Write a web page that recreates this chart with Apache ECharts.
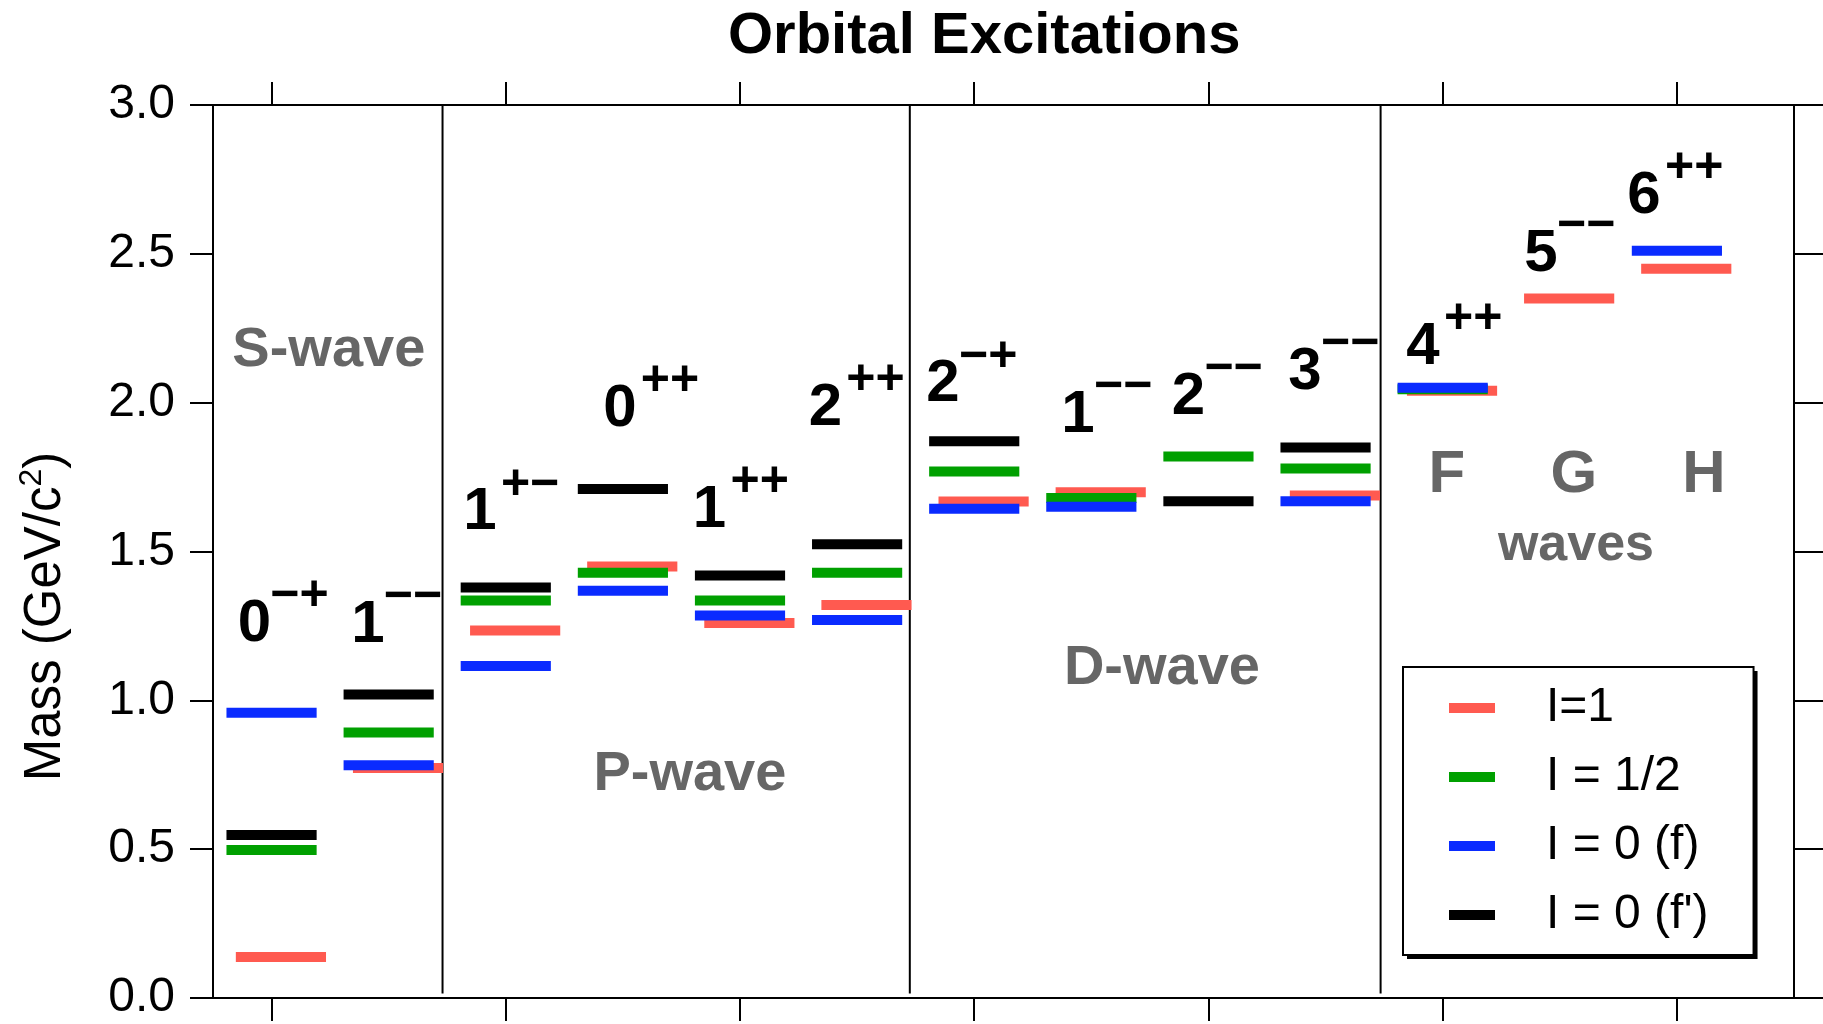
<!DOCTYPE html>
<html>
<head>
<meta charset="utf-8">
<title>Orbital Excitations</title>
<script src="https://cdn.jsdelivr.net/npm/echarts@6/dist/echarts.min.js"></script>
<style>
  html, body { margin: 0; padding: 0; background: #fff; }
  #chart { width: 1823px; height: 1024px; }
</style>
</head>
<body>
<div id="chart"></div>
<script>
// J^PC columns, left to right: S-wave, P-wave, D-wave, then F/G/H leading trajectories
const spins    = ['0', '1', '1', '0', '1', '2', '2', '1', '2', '3', '4', '5', '6'];
const parities = ['−+', '−−', '+−', '++', '++', '++', '−+', '−−', '−−', '−−', '++', '−−', '++'];

// Meson masses in GeV/c^2, one per column (null: no state in that column)
const massI1    = [0.138, 0.773, 1.235, 1.450, 1.260, 1.320, 1.668, 1.699, null,  1.688, 2.040, 2.350, 2.450];
const massIhalf = [0.497, 0.892, 1.335, 1.429, 1.335, 1.429, 1.769, 1.680, 1.819, 1.779, 2.045, null,  null];
const massI0f   = [0.958, 0.782, 1.115, 1.368, 1.285, 1.270, 1.644, 1.650, null,  1.669, 2.050, null,  2.510];
const massI0fp  = [0.548, 1.020, 1.379, 1.710, 1.419, 1.524, 1.870, null,  1.669, 1.849, null,  null,  null];

const isospinNames = ['I=1', 'I = 1/2', 'I = 0 (f)', "I = 0 (f')"];
const columnTicks = [1, 3, 5, 7, 9, 11, 13];
const waveNames = ['S-wave', 'P-wave', 'D-wave', 'F', 'G', 'H', 'waves'];

// ---- layout (axis units) ----
const waveBounds = [2.46, 6.45, 10.47];
const jpcLabelAt = [
  [0.853, 1.268], [1.822, 1.266], [2.779, 1.643], [3.974, 1.992], [4.739, 1.653],
  [5.729, 1.994], [6.733, 2.073], [7.886, 1.970], [8.829, 2.032], [9.824, 2.116],
  [10.832, 2.200], [11.840, 2.511], [12.719, 2.706]
];
const waveLabelAt = [
  [1.489, 2.190], [4.572, 0.765], [8.603, 1.119],
  [11.036, 1.768], [12.121, 1.768], [13.231, 1.768], [12.138, 1.534]
];
const waveLabelSize = [56, 56, 56, 60, 60, 60, 52];

// ---- style ----
const FONT = '"Liberation Sans", Arial, sans-serif';
const colors = ['#ff5a50', '#00a000', '#0a2bff', '#000000'];
const LEVEL_HALF = 0.385;        // half length of a level bar, axis units
const LEVEL_THICK = 10;          // px
const shifts = [0.08, 0, 0, 0];  // I=1 bars sit slightly to the right
const TEXT_DY = 4;               // px nudge so cap height centres on the anchor

const chart = echarts.init(document.getElementById('chart'), null, { renderer: 'canvas' });

function levelSeries(k, values) {
  return {
    name: isospinNames[k],
    type: 'custom',
    silent: true,
    clip: false,
    z: 3,
    itemStyle: { color: colors[k] },
    encode: { x: 0, y: 1 },
    data: values.map((m, i) => [i + 1, m]).filter(d => d[1] != null),
    renderItem: (params, api) => {
      const x = api.value(0), m = api.value(1);
      const a = api.coord([x - LEVEL_HALF + shifts[k], m]);
      const b = api.coord([x + LEVEL_HALF + shifts[k], m]);
      return {
        type: 'rect',
        shape: { x: a[0], y: a[1] - LEVEL_THICK / 2, width: b[0] - a[0], height: LEVEL_THICK },
        style: { fill: colors[k] }
      };
    }
  };
}

const axisLineStyle = { color: '#000', width: 2 };

const xAxisCommon = {
  type: 'value', min: 0.5, max: 14,
  axisLine: { show: true, onZero: false, lineStyle: axisLineStyle },
  axisTick: { show: true, inside: false, length: 23, lineStyle: axisLineStyle, customValues: columnTicks },
  axisLabel: { show: false },
  splitLine: { show: false }
};

const legendCommon = {
  orient: 'vertical',
  data: isospinNames,
  icon: 'rect', itemWidth: 46, itemHeight: 10, itemGap: 19,
  padding: [16, 45, 15, 46],
  selectedMode: false,
  textStyle: { fontFamily: FONT, fontSize: 48, lineHeight: 50, color: '#000', padding: [0, 0, 0, 46] }
};

const option = {
  backgroundColor: '#fff',
  animation: false,
  title: {
    text: 'Orbital Excitations',
    left: 728, top: 8, padding: 0,
    textStyle: { fontFamily: FONT, fontWeight: 'bold', fontSize: 58, lineHeight: 58, color: '#000' }
  },
  grid: { left: 213, right: 29, top: 105, bottom: 26, containLabel: false },
  xAxis: [
    Object.assign({ position: 'bottom' }, xAxisCommon),
    Object.assign({ position: 'top' }, xAxisCommon)
  ],
  yAxis: [
    {
      type: 'value', min: 0, max: 3, interval: 0.5, position: 'left',
      name: '{t|Mass (GeV/c}{s|2}{t|)}',
      nameLocation: 'middle', nameRotate: 90, nameGap: 137,
      nameTextStyle: {
        padding: [0, 130, 0, 0],
        rich: {
          t: { fontFamily: FONT, fontSize: 51, color: '#000', lineHeight: 60 },
          s: { fontFamily: FONT, fontSize: 32, color: '#000', verticalAlign: 'top' }
        }
      },
      axisLine: { show: true, lineStyle: axisLineStyle },
      axisTick: { show: true, inside: false, length: 23, lineStyle: axisLineStyle },
      axisLabel: { show: true, margin: 38, fontFamily: FONT, fontSize: 48, color: '#000',
                   formatter: v => v.toFixed(1) },
      splitLine: { show: false }
    },
    {
      type: 'value', min: 0, max: 3, interval: 0.5, position: 'right',
      axisLine: { show: true, lineStyle: axisLineStyle },
      axisTick: { show: true, inside: false, length: 29, lineStyle: axisLineStyle },
      axisLabel: { show: false },
      splitLine: { show: false }
    }
  ],
  legend: [
    // solid drop shadow behind the key box
    Object.assign({}, legendCommon, {
      left: 1407, top: 671, z: 5,
      backgroundColor: '#000', borderWidth: 0,
      textStyle: Object.assign({}, legendCommon.textStyle, { color: 'rgba(0,0,0,0)' })
    }),
    Object.assign({}, legendCommon, {
      left: 1403, top: 667, z: 6,
      backgroundColor: '#fff', borderColor: '#000', borderWidth: 2, borderRadius: 0
    })
  ],
  series: [
    // dividers between the partial-wave groups
    {
      type: 'custom', silent: true, clip: false, z: 2,
      encode: { x: 0, y: 1 },
      data: waveBounds.map(x => [x, 0]),
      renderItem: (params, api) => {
        const top = api.coord([api.value(0), 3]);
        const bot = api.coord([api.value(0), 0.015]);
        return { type: 'line', shape: { x1: top[0], y1: top[1], x2: bot[0], y2: bot[1] },
                 style: { stroke: '#000', lineWidth: 2 } };
      }
    },
    levelSeries(0, massI1),
    levelSeries(1, massIhalf),
    levelSeries(2, massI0f),
    levelSeries(3, massI0fp),
    // J^PC labels: the spin J with P and C as a superscript
    {
      type: 'custom', silent: true, clip: false, z: 4,
      encode: { x: 0, y: 1 },
      data: jpcLabelAt.map((p, i) => [p[0], p[1], i]),
      renderItem: (params, api) => {
        const i = api.value(2);
        const p = api.coord([api.value(0), api.value(1)]);
        const gap = parities[i].charAt(0) === '+' ? 21 : 16;
        return {
          type: 'group',
          children: [
            { type: 'text', x: p[0], y: p[1] + TEXT_DY,
              style: { text: spins[i], font: 'bold 60px ' + FONT, fill: '#000',
                       textAlign: 'center', textVerticalAlign: 'middle' } },
            { type: 'text', x: p[0] + gap, y: p[1] + TEXT_DY - 28,
              style: { text: parities[i], font: 'bold 50px ' + FONT, fill: '#000',
                       textAlign: 'left', textVerticalAlign: 'middle' } }
          ]
        };
      }
    },
    // partial-wave names
    {
      type: 'custom', silent: true, clip: false, z: 4,
      encode: { x: 0, y: 1 },
      data: waveLabelAt.map((p, i) => [p[0], p[1], i]),
      renderItem: (params, api) => {
        const i = api.value(2);
        const p = api.coord([api.value(0), api.value(1)]);
        return { type: 'text', x: p[0], y: p[1] + TEXT_DY,
                 style: { text: waveNames[i], font: 'bold ' + waveLabelSize[i] + 'px ' + FONT,
                          fill: '#666666', textAlign: 'center', textVerticalAlign: 'middle' } };
      }
    }
  ]
};

chart.setOption(option);
</script>
</body>
</html>
